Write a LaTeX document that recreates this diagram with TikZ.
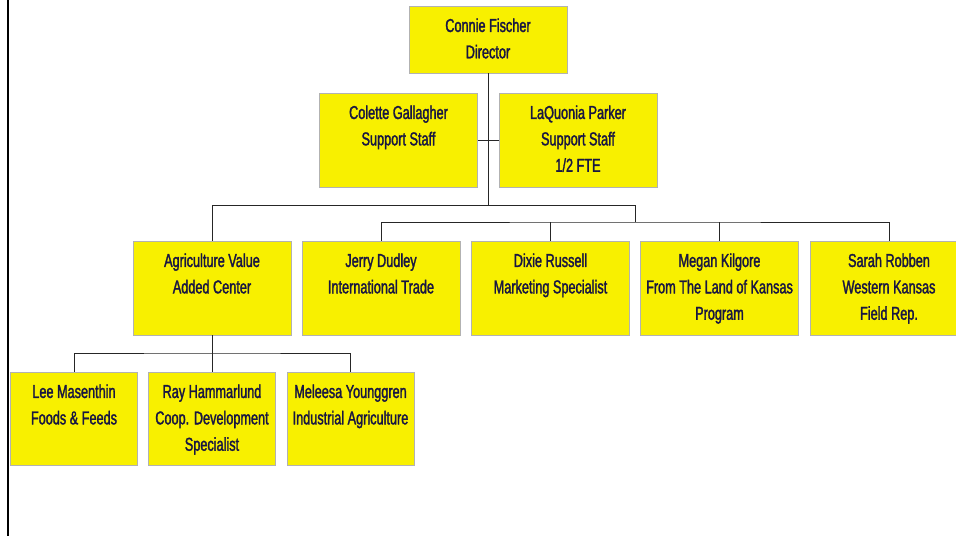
\documentclass[tikz,border=0pt]{standalone}
\usepackage{fontspec}
\setmainfont[FakeStretch=0.68, FakeBold=1.6]{Liberation Sans}
\usepackage{tikz}
\definecolor{boxyellow}{RGB}{248,240,0}
\definecolor{boxtext}{RGB}{24,22,66}
\tikzset{
	orgbox/.style 2 args={draw=black!30, line width=0.4pt, fill=boxyellow, inner sep=0pt, text=boxtext,
		font=\fontsize{14}{19.8}\selectfont,
		execute at begin node={\begin{minipage}[c][#2][t]{#1}\centering\vspace*{5.6pt}\strut},
		execute at end node={\end{minipage}}},
	headbox/.style={orgbox={118.5pt}{50.25pt}},
	staffbox/.style={orgbox={118.5pt}{70.5pt}},
	unitbox/.style={orgbox={95.25pt}{69.75pt}},
	link/.style={draw=black!85, line width=0.7pt}
}

\begin{document}
\begin{tikzpicture}[x=0.75pt, y=-0.75pt]
		%%%%% START %%%%%
		\clip (0, 0) rectangle (956, 536);
		
		\draw[line width=2.2pt] (8, 0) -- (8, 536);
		
		\node[headbox] (dir) at (488, 39.5) {Connie Fischer\\Director};
		
		\node[staffbox] (col) at (398.5, 140) {Colette Gallagher\\Support Staff};
		\node[staffbox] (laq) at (578, 140) {LaQuonia Parker\\Support Staff\\1/2 FTE};
		
		\node[staffbox] (agri) at (212, 288) {Agriculture Value\\Added Center};
		\node[staffbox] (jer) at (381, 288) {Jerry Dudley\\International Trade};
		\node[staffbox] (dix) at (550.5, 288) {Dixie Russell\\Marketing Specialist};
		\node[staffbox] (meg) at (719.5, 288) {Megan Kilgore\\From The Land of Kansas\\Program};
		\node[staffbox] (sar) at (889, 288) {Sarah Robben\\Western Kansas\\Field Rep.};
		
		\node[unitbox] (lee) at (74, 418.5) {Lee Masenthin\\Foods \& Feeds};
		\node[unitbox] (ray) at (212, 418.5) {Ray Hammarlund\\Coop. Development\\Specialist};
		\node[unitbox] (mel) at (350.5, 418.5) {Meleesa Younggren\\Industrial Agriculture};
		
		\coordinate (busA) at (488, 205);
		\coordinate (busB) at (635, 222);
		\coordinate (busC) at (212, 353);
		
		\draw[link] (dir.south) -- (busA);
		\draw[link] (col.east) -- (laq.west);
		\draw[link] (agri.north) |- (busB |- busA) -- (busB);
		\draw[link] (jer.north) |- (busB) -| (sar.north);
		\draw[link] (dix.north) -- (dix.north |- busB);
		\draw[link] (meg.north) -- (meg.north |- busB);
		
		\draw[link] (agri.south) -- (ray.north);
		\draw[link] (lee.north) |- (busC) -| (mel.north);
		
		%%%%% END %%%%%
	\end{tikzpicture}
\end{document}
